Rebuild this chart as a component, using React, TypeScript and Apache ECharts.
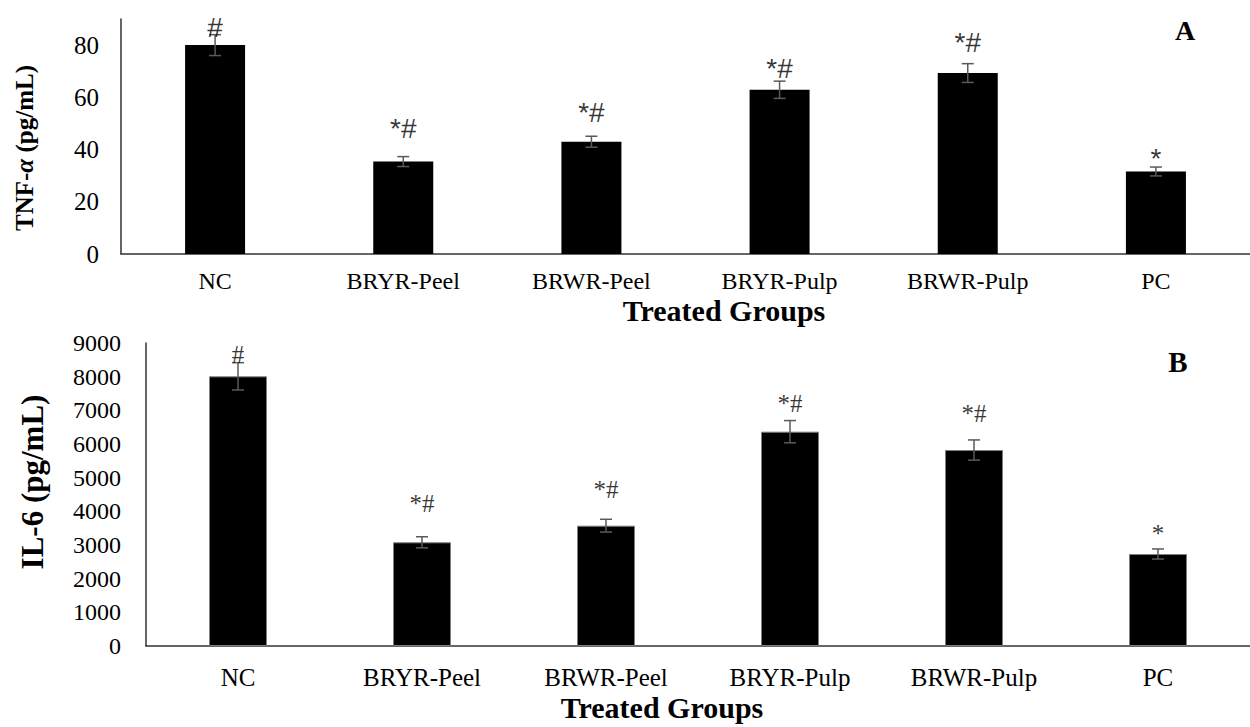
import React, { useEffect, useRef } from "react";
import * as echarts from "echarts";

const categories = ["NC", "BRYR-Peel", "BRWR-Peel", "BRYR-Pulp", "BRWR-Pulp", "PC"];

// Panel A: TNF-α (pg/mL)
const tnfMeans = [80, 35.4, 43.0, 62.9, 69.3, 31.6];
const tnfErrors = [4.0, 1.9, 2.1, 3.3, 3.6, 1.7];
const tnfMarks = ["#", "*#", "*#", "*#", "*#", "*"];
const tnfMarkLevels = [86.6, 48.2, 54.1, 70.9, 81.1, 36.6];
const tnfTicks = { min: 0, max: 90, interval: 20 };

// Panel B: IL-6 (pg/mL)
const il6Means = [8010, 3080, 3574, 6366, 5821, 2732];
const il6Errors = [405, 165, 190, 330, 300, 150];
const il6Marks = ["#", "*#", "*#", "*#", "*#", "*"];
const il6MarkLevels = [8658, 4238, 4648, 7208, 6920, 3356];
const il6Ticks = { min: 0, max: 9000, interval: 1000 };

const SERIF = "'Liberation Serif', 'Times New Roman', serif";
const SANS = "'Liberation Sans', Arial, sans-serif";

function errorSeries(idx: number, means: number[], errs: number[]) {
  return {
    type: "custom",
    xAxisIndex: idx,
    yAxisIndex: idx,
    z: 5,
    data: means.map((m, i) => [i, m - errs[i], m + errs[i]]),
    renderItem: (params: any, api: any) => {
      const x = api.value(0);
      const lo = api.coord([x, api.value(1)]);
      const hi = api.coord([x, api.value(2)]);
      const w = 6;
      const style = { stroke: "#5a5a5a", lineWidth: 1.5 };
      return {
        type: "group",
        children: [
          { type: "line", shape: { x1: hi[0], y1: hi[1], x2: lo[0], y2: lo[1] }, style },
          { type: "line", shape: { x1: hi[0] - w, y1: hi[1], x2: hi[0] + w, y2: hi[1] }, style },
          { type: "line", shape: { x1: lo[0] - w, y1: lo[1], x2: lo[0] + w, y2: lo[1] }, style },
        ],
      };
    },
  };
}

function markSeries(idx: number, levels: number[], marks: string[], font: string, size: number) {
  return {
    type: "scatter",
    xAxisIndex: idx,
    yAxisIndex: idx,
    z: 6,
    symbolSize: 1,
    itemStyle: { color: "rgba(0,0,0,0)" },
    data: levels.map((v, i) => [i, v]),
    label: {
      show: true,
      position: "inside",
      formatter: (p: any) => marks[p.dataIndex],
      color: "#000",
      fontFamily: font,
      fontSize: size,
    },
  };
}

export default function App() {
  const ref = useRef<HTMLDivElement>(null);
  useEffect(() => {
    if (!ref.current) return;
    const chart = echarts.init(ref.current, undefined, { renderer: "svg" });
    const axisLine = { show: true, lineStyle: { color: "#333", width: 1.5 } };
    const xAxisCommon = {
      type: "category",
      data: categories,
      axisTick: { show: false },
      axisLine,
      axisLabel: { color: "#000", fontFamily: SERIF, fontSize: 25, lineHeight: 20 },
    };
    const yAxisCommon = {
      type: "value",
      splitLine: { show: false },
      axisTick: { show: false },
      axisLine,
    };
    const plain = (v: number) => String(v);
    const axisTitle = (x: number, y: number) => ({
      type: "text",
      x,
      y,
      style: {
        text: "Treated Groups",
        align: "center",
        verticalAlign: "middle",
        fontFamily: SERIF,
        fontWeight: "bold",
        fontSize: 30,
        lineHeight: 22,
        fill: "#000",
      },
    });
    chart.setOption({
      animation: false,
      grid: [
        { left: 121, top: 19, width: 1140, height: 235 },
        { left: 146, top: 343, width: 1104, height: 303 },
      ],
      xAxis: [
        { ...xAxisCommon, gridIndex: 0, axisLabel: { ...xAxisCommon.axisLabel, fontSize: 24, margin: 17 } },
        { ...xAxisCommon, gridIndex: 1, axisLabel: { ...xAxisCommon.axisLabel, margin: 21 } },
      ],
      yAxis: [
        {
          ...yAxisCommon,
          gridIndex: 0,
          ...tnfTicks,
          axisLabel: { color: "#000", fontFamily: SERIF, fontSize: 25, margin: 22, showMaxLabel: false, formatter: plain },
        },
        {
          ...yAxisCommon,
          gridIndex: 1,
          ...il6Ticks,
          axisLabel: { color: "#000", fontFamily: SERIF, fontSize: 24, margin: 25, formatter: plain },
        },
      ],
      series: [
        {
          type: "bar",
          xAxisIndex: 0,
          yAxisIndex: 0,
          data: tnfMeans,
          barWidth: 60,
          itemStyle: { color: "#000" },
        },
        {
          type: "bar",
          xAxisIndex: 1,
          yAxisIndex: 1,
          data: il6Means,
          barWidth: 58,
          itemStyle: { color: "#000", borderColor: "#7f7f7f", borderWidth: 1 },
        },
        errorSeries(0, tnfMeans, tnfErrors),
        errorSeries(1, il6Means, il6Errors),
        markSeries(0, tnfMarkLevels, tnfMarks, SANS, 28),
        markSeries(1, il6MarkLevels, il6Marks, SERIF, 25),
      ],
      graphic: [
        {
          type: "text",
          x: 24,
          y: 148,
          rotation: Math.PI / 2,
          style: {
            text: "{a|TNF-}{b|α}{a| (pg/mL)}",
            align: "center",
            verticalAlign: "middle",
            rich: {
              a: { fontFamily: SERIF, fontWeight: "bold", fontSize: 25, fill: "#000" },
              b: { fontFamily: SERIF, fontWeight: "bold", fontStyle: "italic", fontSize: 25, fill: "#000" },
            },
          },
        },
        {
          type: "text",
          x: 32,
          y: 482,
          rotation: Math.PI / 2,
          style: {
            text: "IL-6 (pg/mL)",
            align: "center",
            verticalAlign: "middle",
            fontFamily: SERIF,
            fontWeight: "bold",
            fontSize: 31,
            fill: "#000",
          },
        },
        axisTitle(724, 310),
        axisTitle(662, 707),
        {
          type: "text",
          x: 1185,
          y: 30,
          style: {
            text: "A",
            align: "center",
            verticalAlign: "middle",
            fontFamily: SERIF,
            fontWeight: "bold",
            fontSize: 28,
            fill: "#000",
          },
        },
        {
          type: "text",
          x: 1178,
          y: 362,
          style: {
            text: "B",
            align: "center",
            verticalAlign: "middle",
            fontFamily: SERIF,
            fontWeight: "bold",
            fontSize: 29,
            fill: "#000",
          },
        },
      ],
    });
    return () => chart.dispose();
  }, []);
  return (
    <div
      ref={ref}
      style={{ position: "absolute", left: 0, top: 0, width: 1250, height: 727, background: "#fff" }}
    />
  );
}
